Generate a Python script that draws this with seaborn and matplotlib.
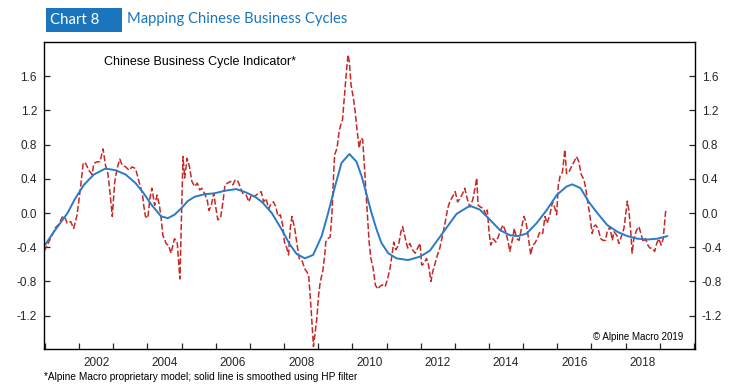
import matplotlib
matplotlib.use("Agg")
import matplotlib.pyplot as plt
from matplotlib.patches import Rectangle
import seaborn as sns
import pandas as pd

# Raw indicator (dashed red)
red_years = [
    2000.97, 2001.16, 2001.31, 2001.41, 2001.50, 2001.57, 2001.65, 2001.75, 2001.84, 2001.94,
    2002.04, 2002.12, 2002.19, 2002.28, 2002.38, 2002.43, 2002.53, 2002.61, 2002.70, 2002.77,
    2002.84, 2002.90, 2002.97, 2003.04, 2003.11, 2003.19, 2003.26, 2003.36, 2003.46, 2003.55,
    2003.65, 2003.75, 2003.85, 2003.89, 2003.94, 2004.01, 2004.07, 2004.13, 2004.21, 2004.28,
    2004.35, 2004.40, 2004.45, 2004.55, 2004.62, 2004.69, 2004.79, 2004.87, 2004.95, 2005.04,
    2005.09, 2005.16, 2005.23, 2005.30, 2005.38, 2005.46, 2005.53, 2005.59, 2005.67, 2005.75,
    2005.80, 2005.87, 2005.94, 2006.01, 2006.06, 2006.14, 2006.21, 2006.27, 2006.35, 2006.43,
    2006.50, 2006.57, 2006.65, 2006.73, 2006.79, 2006.89, 2006.97, 2007.04, 2007.12, 2007.25,
    2007.33, 2007.40, 2007.47, 2007.55, 2007.62, 2007.69, 2007.76, 2007.82, 2007.89, 2007.96,
    2008.01, 2008.08, 2008.13, 2008.18, 2008.23, 2008.31, 2008.37, 2008.44, 2008.52, 2008.60,
    2008.67, 2008.72, 2008.79, 2008.86, 2008.96, 2009.01, 2009.06, 2009.13, 2009.19, 2009.22,
    2009.28, 2009.35, 2009.40, 2009.45, 2009.48, 2009.55, 2009.61, 2009.67, 2009.71, 2009.75,
    2009.81, 2009.87, 2009.91, 2009.96, 2010.03, 2010.08, 2010.13, 2010.20, 2010.25, 2010.30,
    2010.35, 2010.39, 2010.44, 2010.49, 2010.54, 2010.61, 2010.67, 2010.74, 2010.80, 2010.88,
    2010.96, 2011.03, 2011.10, 2011.16, 2011.21, 2011.27, 2011.35, 2011.42, 2011.47, 2011.55,
    2011.62, 2011.68, 2011.76, 2011.84, 2011.91, 2011.98, 2012.03, 2012.10, 2012.17, 2012.23,
    2012.30, 2012.35, 2012.42, 2012.49, 2012.56, 2012.64, 2012.72, 2012.79, 2012.85, 2012.93,
    2013.01, 2013.08, 2013.15, 2013.23, 2013.29, 2013.36, 2013.44, 2013.52, 2013.59, 2013.64,
    2013.68, 2013.75, 2013.83, 2013.91, 2013.95, 2014.00, 2014.05, 2014.12, 2014.20, 2014.27,
    2014.34, 2014.41, 2014.49, 2014.56, 2014.61, 2014.69, 2014.74, 2014.81, 2014.88, 2014.95,
    2015.02, 2015.08, 2015.15, 2015.22, 2015.28, 2015.34, 2015.41, 2015.49, 2015.57, 2015.64,
    2015.70, 2015.78, 2015.86, 2015.93, 2015.98, 2016.03, 2016.08, 2016.15, 2016.22, 2016.27,
    2016.34, 2016.41, 2016.49, 2016.56, 2016.63, 2016.70, 2016.78, 2016.83, 2016.89, 2016.95,
    2017.02, 2017.07, 2017.12, 2017.19, 2017.27, 2017.34, 2017.41, 2017.46, 2017.54, 2017.61,
    2017.66, 2017.74, 2017.80, 2017.87, 2017.95, 2018.00, 2018.05, 2018.10, 2018.15, 2018.19,
    2018.24, 2018.32, 2018.39, 2018.46, 2018.52, 2018.58, 2018.65, 2018.71, 2018.78, 2018.85,
    2018.91, 2018.97, 2019.04, 2019.10, 2019.17, 2019.22,
]
red_values = [
    -0.45, -0.30, -0.17, -0.13, -0.05, -0.04, -0.12, -0.10, -0.18, -0.02,
    0.30, 0.59, 0.58, 0.50, 0.45, 0.58, 0.60, 0.60, 0.75, 0.56,
    0.46, 0.25, -0.04, 0.36, 0.52, 0.63, 0.56, 0.54, 0.50, 0.54,
    0.52, 0.37, 0.23, 0.09, -0.04, -0.06, 0.17, 0.29, 0.09, 0.21,
    0.09, -0.06, -0.26, -0.36, -0.38, -0.47, -0.30, -0.34, -0.77, 0.66,
    0.41, 0.64, 0.54, 0.37, 0.31, 0.35, 0.27, 0.29, 0.23, 0.15,
    0.03, 0.09, 0.23, 0.04, -0.08, -0.06, 0.13, 0.33, 0.35, 0.37,
    0.33, 0.39, 0.37, 0.29, 0.23, 0.21, 0.13, 0.21, 0.19, 0.23,
    0.25, 0.13, 0.17, 0.05, 0.11, 0.13, 0.07, -0.04, -0.02, -0.14,
    -0.34, -0.41, -0.49, -0.18, -0.04, -0.18, -0.34, -0.53, -0.55, -0.65,
    -0.69, -0.73, -1.12, -1.56, -1.23, -0.96, -0.80, -0.69, -0.49, -0.34,
    -0.30, -0.28, -0.02, 0.45, 0.68, 0.76, 0.95, 1.05, 1.09, 1.29,
    1.58, 1.85, 1.77, 1.50, 1.34, 1.19, 0.99, 0.76, 0.875, 0.86,
    0.56, 0.29, -0.02, -0.34, -0.53, -0.65, -0.84, -0.89, -0.86, -0.84,
    -0.86, -0.77, -0.65, -0.49, -0.34, -0.43, -0.375, -0.22, -0.16, -0.30,
    -0.41, -0.355, -0.43, -0.47, -0.41, -0.355, -0.61, -0.59, -0.53, -0.61,
    -0.80, -0.69, -0.59, -0.49, -0.41, -0.26, -0.10, 0.055, 0.13, 0.19,
    0.25, 0.13, 0.17, 0.23, 0.29, 0.17, 0.07, 0.15, 0.29, 0.41,
    0.09, 0.07, 0.055, -0.02, 0.035, -0.22, -0.375, -0.30, -0.34, -0.28,
    -0.20, -0.14, -0.22, -0.34, -0.45, -0.30, -0.18, -0.30, -0.32, -0.18,
    -0.04, -0.10, -0.28, -0.49, -0.375, -0.355, -0.30, -0.22, -0.24, -0.04,
    -0.12, -0.02, 0.13, 0.055, -0.02, 0.33, 0.43, 0.48, 0.74, 0.46,
    0.48, 0.54, 0.60, 0.66, 0.60, 0.45, 0.39, 0.29, 0.13, -0.02,
    -0.24, -0.16, -0.14, -0.18, -0.30, -0.32, -0.32, -0.22, -0.16, -0.32,
    -0.22, -0.26, -0.355, -0.28, -0.18, -0.02, 0.14, 0.015, -0.22, -0.47,
    -0.30, -0.20, -0.16, -0.26, -0.34, -0.30, -0.375, -0.41, -0.41, -0.45,
    -0.355, -0.30, -0.375, -0.30, 0.015, 0.05,
]

# HP-filtered trend (solid blue)
blue_years = [
    2000.97, 2001.26, 2001.55, 2001.66, 2001.87, 2002.14, 2002.43, 2002.77, 2003.07, 2003.36,
    2003.65, 2003.89, 2004.11, 2004.40, 2004.60, 2004.79, 2004.99, 2005.18, 2005.38, 2005.67,
    2005.96, 2006.26, 2006.60, 2006.89, 2007.15, 2007.35, 2007.64, 2007.94, 2008.17, 2008.37,
    2008.61, 2008.85, 2009.10, 2009.29, 2009.49, 2009.68, 2009.91, 2010.12, 2010.27, 2010.42,
    2010.56, 2010.71, 2010.85, 2011.05, 2011.29, 2011.63, 2011.98, 2012.27, 2012.65, 2013.05,
    2013.44, 2013.73, 2014.03, 2014.32, 2014.61, 2014.85, 2015.10, 2015.39, 2015.69, 2015.98,
    2016.27, 2016.44, 2016.68, 2016.92, 2017.17, 2017.46, 2017.76, 2018.05, 2018.34, 2018.63,
    2018.93, 2019.22,
]
blue_values = [
    -0.39, -0.22, -0.06, 0.00, 0.16, 0.33, 0.45, 0.52, 0.50, 0.45,
    0.35, 0.23, 0.10, -0.04, -0.06, -0.02, 0.055, 0.14, 0.19, 0.22,
    0.23, 0.26, 0.28, 0.24, 0.19, 0.13, 0.00, -0.20, -0.37, -0.48,
    -0.53, -0.49, -0.27, 0.00, 0.31, 0.585, 0.69, 0.60, 0.43, 0.21,
    0.00, -0.195, -0.35, -0.47, -0.53, -0.55, -0.51, -0.44, -0.23, -0.01,
    0.085, 0.04, -0.08, -0.20, -0.26, -0.27, -0.24, -0.12, 0.035, 0.21,
    0.31, 0.335, 0.29, 0.13, 0.00, -0.14, -0.22, -0.27, -0.30, -0.31,
    -0.30, -0.27,
]

y_ticks = [-1.2, -0.8, -0.4, 0.0, 0.4, 0.8, 1.2, 1.6]
year_ticks = list(range(2001, 2021))
label_years = list(range(2002, 2020, 2))

BLUE = "#1b75bc"
LINE_BLUE = "#2a7ac6"
LINE_RED = "#c62828"

sns.set_style("ticks")
plt.rcParams['font.family'] = ['Liberation Sans', 'DejaVu Sans']
plt.rcParams['axes.unicode_minus'] = False

red_df = pd.DataFrame({'year': red_years, 'value': red_values})
blue_df = pd.DataFrame({'year': blue_years, 'value': blue_values})

fig = plt.figure(figsize=(7.38, 3.86), dpi=100)
ax = fig.add_axes([0.0596, 0.0959, 0.8821, 0.7953])

sns.lineplot(data=red_df, x='year', y='value', ax=ax, color=LINE_RED, linewidth=1.1,
             estimator=None, sort=False, linestyle=(0, (4, 1.6)))
sns.lineplot(data=blue_df, x='year', y='value', ax=ax, color=LINE_BLUE, linewidth=1.4,
             estimator=None, sort=False)

ax.set_xlim(2000.97, 2020.03)
ax.set_ylim(-1.59, 2.0)
ax.set_xlabel('')
ax.set_ylabel('')

# year boundaries get tick marks, even years labelled mid-year
ax.set_xticks(year_ticks)
ax.set_xticklabels([])
ax.set_xticks([y + 0.5 for y in label_years], minor=True)
ax.set_xticklabels([str(y) for y in label_years], minor=True)
ax.tick_params(axis='x', which='major', direction='in', length=4.5, width=0.9, top=False)
ax.tick_params(axis='x', which='minor', length=0, labelsize=8.5, pad=6)

ax.set_yticks(y_ticks)
ax.set_yticklabels([f"{v:.1f}" for v in y_ticks])
ax.tick_params(axis='y', direction='in', length=4.5, width=0.9, labelsize=8.5,
               left=True, right=True, labelleft=True, labelright=True, pad=5)

for side in ['left', 'right', 'top', 'bottom']:
    ax.spines[side].set_visible(True)
    ax.spines[side].set_color('black')
    ax.spines[side].set_linewidth(1.0)

# header
fig.patches.append(Rectangle((46 / 738, 1 - 31.7 / 386), 76 / 738, 24 / 386,
                             transform=fig.transFigure, facecolor=BLUE, edgecolor='none'))
fig.text(50 / 738, 1 - 19.5 / 386, 'Chart 8', color='white', fontsize=10.8,
         family=['Lato', 'DejaVu Sans'], ha='left', va='center')
fig.text(127 / 738, 1 - 19.5 / 386, 'Mapping Chinese Business Cycles', color=BLUE, fontsize=10.6,
         family=['Lato', 'DejaVu Sans'], ha='left', va='center')

fig.text(104 / 738, 1 - 62 / 386, 'Chinese Business Cycle Indicator*', fontsize=9,
         ha='left', va='center', color='black')
fig.text(683 / 738, 1 - 336.7 / 386, '\u00a9 Alpine Macro 2019', fontsize=7,
         ha='right', va='center', color='black')
fig.text(44 / 738, 1 - 377 / 386,
         '*Alpine Macro proprietary model; solid line is smoothed using HP filter',
         fontsize=7.3, ha='left', va='center', color='black')

fig.savefig('out.png', dpi=100)
plt.close(fig)
